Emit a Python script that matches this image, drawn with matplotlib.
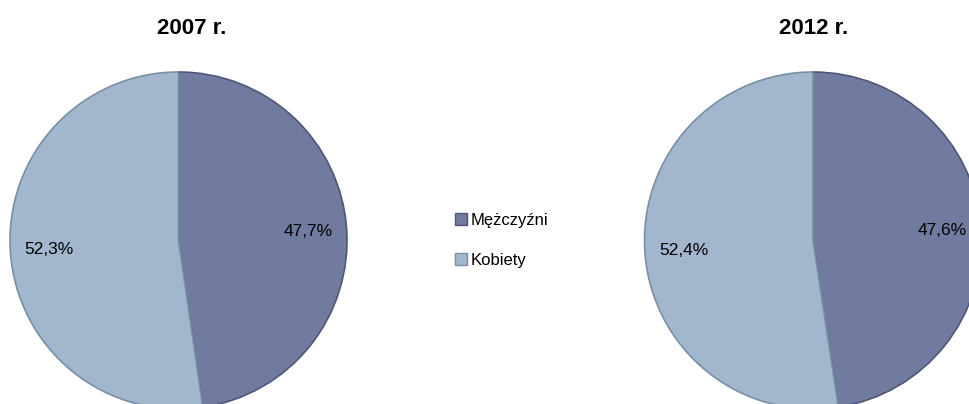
import matplotlib
matplotlib.use("Agg")
import matplotlib.pyplot as plt
from matplotlib.patches import Patch

years = ["2007 r.", "2012 r."]
categories = ["Mężczyźni", "Kobiety"]
men = [47.7, 47.6]
women = [52.3, 52.4]
colors = ["#717A9F", "#A2B6CD"]
edges = ["#4E5777", "#7A8EA4"]

plt.rcParams["font.family"] = ["Liberation Sans", "DejaVu Sans"]

W, H = 969, 404
fig = plt.figure(figsize=(W / 100, H / 100), dpi=100)

R = 168.5
centers = [(178.5, 240.5), (813, 240.5)]
title_pos = [(192, 28), (814, 28)]

for i, (cx, cy) in enumerate(centers):
    ax = fig.add_axes([(cx - R) / W, (H - cy - R) / H, 2 * R / W, 2 * R / H])
    vals = [men[i], women[i]]
    wedges, texts, autotexts = ax.pie(
        vals, colors=colors, startangle=90, counterclock=False,
        autopct=lambda p: f"{p:.1f}%".replace(".", ","), pctdistance=0.77,
        wedgeprops=dict(linewidth=1.2),
        textprops=dict(fontsize=12.5, color="black"))
    for w, e in zip(wedges, edges):
        w.set_edgecolor(e)
    ax.set_xlim(-1, 1)
    ax.set_ylim(-1, 1)
    ax.set_aspect("equal")
    ax.axis("off")
    tx, ty = title_pos[i]
    fig.text(tx / W, 1 - ty / H, years[i], ha="center", va="center",
             fontsize=16, fontweight="bold")

handles = [Patch(facecolor=c, edgecolor=e, linewidth=1) for c, e in zip(colors, edges)]
fig.legend(handles, categories, loc="center left", bbox_to_anchor=(455 / W, 1 - 240 / H),
           frameon=False, fontsize=12, handlelength=0.7, handleheight=0.7,
           handletextpad=0.25, labelspacing=1.5, borderpad=0, borderaxespad=0)

fig.savefig("out.png", dpi=100)
